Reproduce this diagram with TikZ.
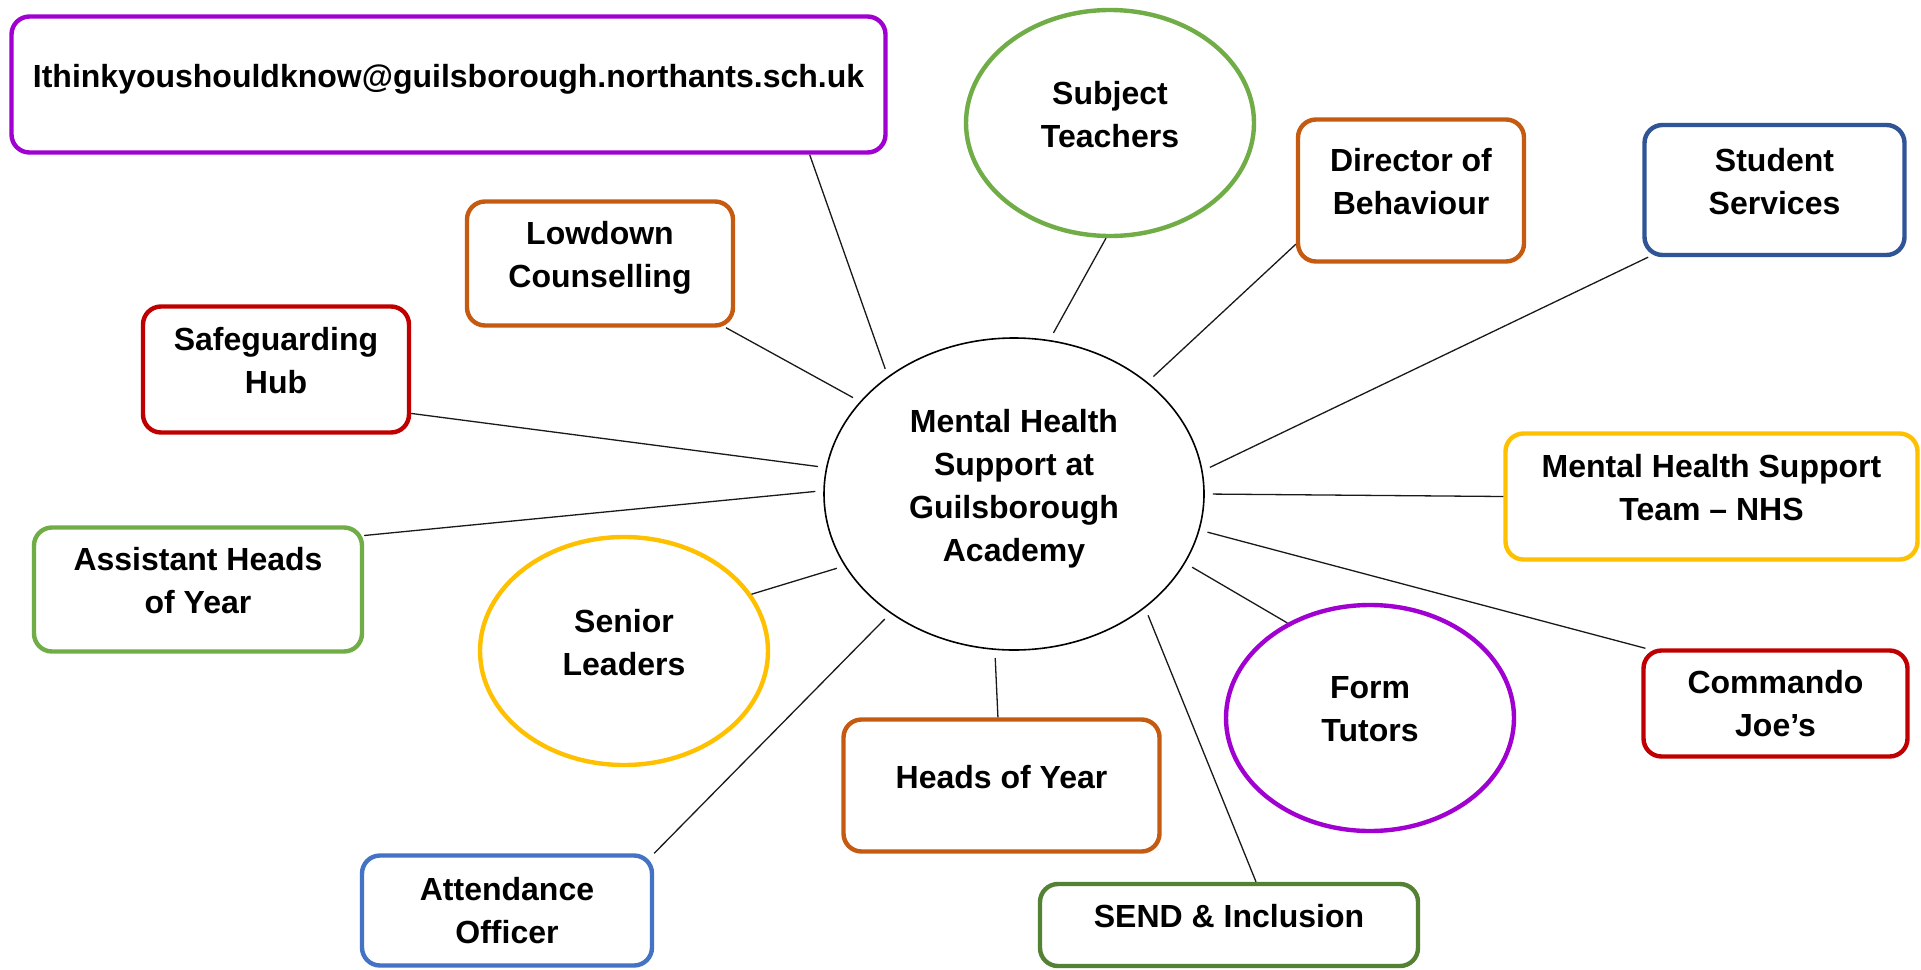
\documentclass[tikz,border=0pt]{standalone}
\usepackage{fontspec}
\setmainfont{Liberation Sans}
\usepackage{tikz}
\usetikzlibrary{shapes.geometric}
\definecolor{mhpurple}{RGB}{160, 0, 208}
\definecolor{mhorange}{RGB}{197, 90, 17}
\definecolor{mhgreen}{RGB}{112, 173, 71}
\definecolor{mhleaf}{RGB}{84, 130, 53}
\definecolor{mhyellow}{RGB}{255, 192, 0}
\definecolor{mhred}{RGB}{192, 0, 0}
\definecolor{mhnavy}{RGB}{47, 85, 151}
\definecolor{mhblue}{RGB}{68, 114, 196}

\begin{document}
\begin{tikzpicture}[
  x=0.5pt, y=-0.5pt,
  label text/.style={align=center, text depth=9pt,
                     font=\fontsize{16pt}{21.5pt}\selectfont\bfseries},
  card/.style={rectangle, rounded corners=9pt, draw, line width=2.2pt, label text},
  bubble/.style={ellipse, draw, line width=2.2pt, inner sep=0pt, label text},
  hub/.style={ellipse, draw, line width=0.8pt, inner sep=0pt, label text},
  link/.style={line width=0.65pt, draw=black!90, shorten <=4pt}
]
\path[fill=white, use as bounding box] (0,0) rectangle (1921,969);

% top row
\node[card, draw=mhpurple, minimum width=437pt, minimum height=68pt] (email) at (448.5,84.5)
  {Ithinkyoushouldknow@guilsborough.northants.sch.uk};
\node[bubble, draw=mhgreen, minimum width=144pt, minimum height=113pt] (subject) at (1110,123) {Subject\\Teachers};
\node[card, draw=mhorange, minimum width=113pt, minimum height=71pt] (director) at (1411,190.5) {Director of\\Behaviour};
\node[card, draw=mhnavy, minimum width=130pt, minimum height=65pt] (services) at (1774.5,190) {Student\\Services};
\node[card, draw=mhorange, minimum width=133pt, minimum height=62pt] (lowdown) at (600,263.5) {Lowdown\\Counselling};
\node[card, draw=mhred, minimum width=133pt, minimum height=63pt] (safeguard) at (276,369.5) {Safeguarding\\Hub};

% centre
\node[hub, minimum width=190pt, minimum height=156pt] (centre) at (1014,494)
  {Mental Health\\Support at\\Guilsborough\\Academy};

% middle row
\node[card, draw=mhyellow, minimum width=206pt, minimum height=63pt] (nhs) at (1711.5,496.5) {Mental Health Support\\Team -- NHS};
\node[card, draw=mhgreen, minimum width=164pt, minimum height=62pt] (assistant) at (198,589.5) {Assistant Heads\\of Year};
\node[bubble, draw=mhyellow, minimum width=144pt, minimum height=114pt] (senior) at (624,651) {Senior\\Leaders};
\node[bubble, draw=mhpurple, minimum width=144pt, minimum height=113pt] (tutors) at (1370,718) {Form\\Tutors};
\node[card, draw=mhred, minimum width=132pt, minimum height=53pt, text depth=0pt] (commando) at (1775.5,703.5) {Commando\\Joe’s};

% bottom row
\node[card, draw=mhorange, minimum width=158pt, minimum height=66pt] (heads) at (1001.5,785.5) {Heads of Year};
\node[card, draw=mhblue, minimum width=145pt, minimum height=55pt, text depth=0pt] (attendance) at (507,910.5) {Attendance\\Officer};
\node[card, draw=mhleaf, minimum width=189pt, minimum height=41pt] (send) at (1229,925) {SEND \& Inclusion};

% spokes
\draw[link] (centre.137.6) -- (email.-11.8);
\draw[link] (centre.77.9) -- (subject.-92);
\draw[link] (centre.40.5) -- (director.205.2);
\draw[link] (centre.7.6) -- (services.208);
\draw[link] (centre.149.8) -- (lowdown.-27.1);
\draw[link] (centre.172) -- (safeguard.-18.1);
\draw[link] (centre.0) -- (nhs.180.7);
\draw[link] (centre.179.4) -- (assistant.18.3);
\draw[link] (centre.203) -- (senior.24.2);
\draw[link] (centre.-11.8) -- (commando.157.6);
\draw[link] (centre.-22.4) -- (tutors.131.6);
\draw[link] (centre.224.1) -- (attendance.north east);
\draw[link] (centre.263.9) -- (heads.93);
\draw[link] (centre.-41.9) -- (send.58.8);

\end{tikzpicture}
\end{document}
